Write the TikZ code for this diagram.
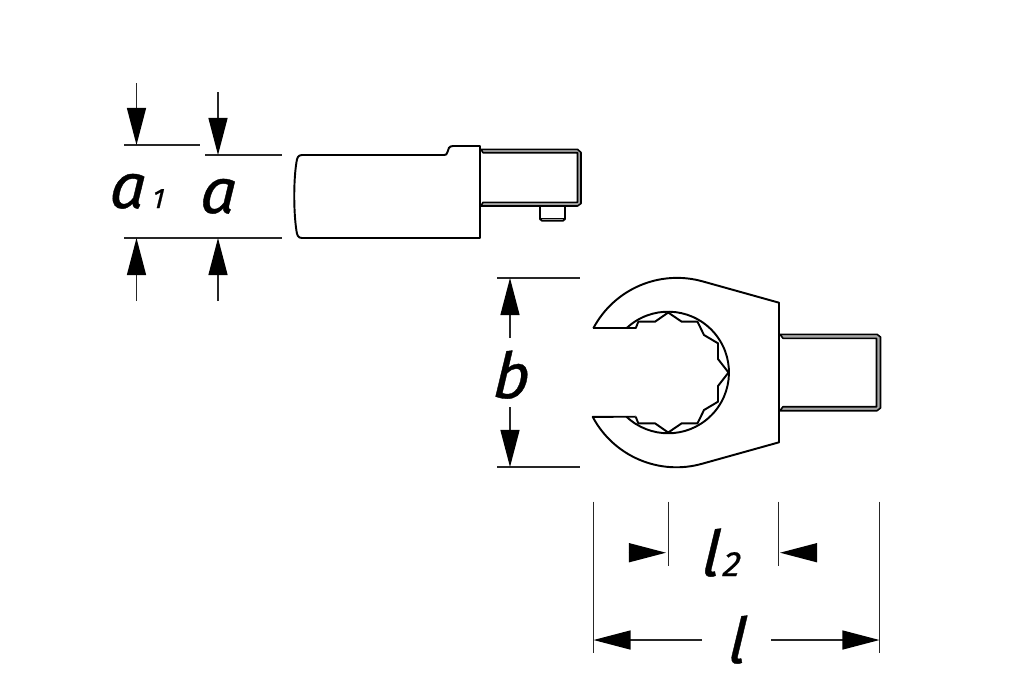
\documentclass[tikz,border=0pt]{standalone}
\usepackage{fontspec}
\usepackage{tikz}
\usetikzlibrary{arrows.meta}
\newfontfamily\dimfont{Fira Sans}[ItalicFeatures={FakeBold=0.6,FakeSlant=0.1}]

\tikzset{
    partline/.style={line width=0.55pt, line join=round},
    thinpart/.style={line width=0.45pt},
    bandline/.style={line width=0.45pt, line join=round, fill=black!35},
    dimline/.style={line width=0.38pt, black!85},
    dimarrow/.style={line width=0.38pt, black!85, -{Triangle[length=3.7mm,width=1.9mm,black]}},
    dimlabel/.style={inner sep=0pt, anchor=base, font=\dimfont\itshape\fontsize{18}{18}\selectfont},
}

\begin{document}
\begin{tikzpicture}[x=0.01cm, y=-0.01cm]
        \useasboundingbox (0,0) rectangle (1030,699);

        % Define the dimension points
        \coordinate (AoneTopEnd) at (136.5,83);
        \coordinate (AoneTopTip) at (136.5,145);
        \coordinate (AoneBotEnd) at (136.5,301);
        \coordinate (AoneBotTip) at (136.5,238);
        \coordinate (ATopEnd) at (218,92);
        \coordinate (ATopTip) at (218,155);
        \coordinate (ABotEnd) at (218,301);
        \coordinate (ABotTip) at (218,238);
        \coordinate (BTopEnd) at (510,338);
        \coordinate (BTopTip) at (510,278);
        \coordinate (BBotEnd) at (510,407);
        \coordinate (BBotTip) at (510,467);
        \coordinate (LtwoLeftEnd) at (628.5,552.7);
        \coordinate (LtwoLeftTip) at (666,552.7);
        \coordinate (LtwoRightEnd) at (815.7,552.7);
        \coordinate (LtwoRightTip) at (780,552.7);
        \coordinate (LLeftEnd) at (702,640);
        \coordinate (LLeftTip) at (593.5,640);
        \coordinate (LRightEnd) at (771,640);
        \coordinate (LRightTip) at (879.5,640);

        % Define the extension lines
        \draw[dimline] (124.3,145) -- (200,145);
        \draw[dimline] (205,155) -- (281.7,155);
        \draw[dimline] (124.3,238) -- (281.7,238);
        \draw[dimline] (497,278) -- (580,278);
        \draw[dimline] (497,467) -- (580,467);
        \draw[dimline] (593.5,501.7) -- (593.5,653.3);
        \draw[dimline] (879.5,501.7) -- (879.5,653.3);
        \draw[dimline] (668.3,501.7) -- (668.3,566);
        \draw[dimline] (778.7,501.7) -- (778.7,566);

        % Define the arrows
        \draw[dimarrow] (AoneTopEnd) -- (AoneTopTip);
        \draw[dimarrow] (AoneBotEnd) -- (AoneBotTip);
        \draw[dimarrow] (ATopEnd) -- (ATopTip);
        \draw[dimarrow] (ABotEnd) -- (ABotTip);
        \draw[dimarrow] (BTopEnd) -- (BTopTip);
        \draw[dimarrow] (BBotEnd) -- (BBotTip);
        \draw[dimarrow] (LtwoLeftEnd) -- (LtwoLeftTip);
        \draw[dimarrow] (LtwoRightEnd) -- (LtwoRightTip);
        \draw[dimarrow] (LLeftEnd) -- (LLeftTip);
        \draw[dimarrow] (LRightEnd) -- (LRightTip);

        % Labels
        \node[dimlabel] (LabelAone) at (136,208) {a\hspace{2pt}{\fontsize{8}{8}\selectfont 1}};
        \node[dimlabel] (LabelA) at (217,213) {a};
        \node[dimlabel] (LabelB) at (510,398) {b};
        \node[dimlabel] (LabelLtwo) at (720,576) {l\hspace{1pt}{\fontsize{10}{10}\selectfont 2}};
        \node[dimlabel] (LabelL) at (736,663) {l};

        % Side view
        \draw[partline] (480,146) -- (453,146) .. controls (449,146) and (448,149) .. (447.5,152)
            .. controls (447,154.5) and (446,155) .. (444,155) -- (302,155)
            .. controls (298,155) and (297,158) .. (296.5,162)
            .. controls (293.5,180) and (293.5,212) .. (296.5,231)
            .. controls (297,235) and (298,238) .. (302,238) -- (480,238) -- cycle;
        \draw[bandline] (481,149.3) -- (577.5,149.3) -- (581,152.5) -- (581,203.5) -- (577.5,206) -- (481,206)
            -- (483,202.3) -- (577.5,202.3) -- (577.5,152.7) -- (483,152.7) -- cycle;
        \draw[partline] (540,206) -- (540,219) -- (542,220.7) -- (563,220.7) -- (565,219) -- (565,206);
        \draw[thinpart] (541,218.3) -- (564,218.3);

        % Front view
        \draw[partline] (593.3,328.3) arc[start angle=-152.1, end angle=-74, radius=94.8]
            -- (779,302.7) -- (779,442.3) -- (702.6,463.6)
            arc[start angle=74, end angle=152.1, radius=94.8] -- (635.7,416.7);
        \draw[partline] (593.3,328.3) -- (635.7,328.3);
        \draw[partline] (626.4,328.3) arc[start angle=-133.4, end angle=133.4, radius=60.8];
        \draw[partline] (635.7,328.3) -- (638.3,321.7) -- (655,321.7) -- (668.2,312.5) -- (681.7,321.7)
            -- (697.5,321.7) -- (704,335) -- (718,343.3) -- (718,359) -- (728.5,372.5)
            -- (718,386) -- (718,401.7) -- (704,410) -- (697.5,423.3) -- (681.7,423.3)
            -- (668.2,432.5) -- (655,423.3) -- (638.3,423.3) -- (635.7,416.7);

        % Drive square
        \draw[bandline] (780,334.3) -- (877,334.3) -- (880.5,337) -- (880.5,408) -- (877,410.7) -- (780,410.7)
            -- (783,406.7) -- (876.5,406.7) -- (876.5,338.3) -- (783,338.3) -- cycle;
\end{tikzpicture}
\end{document}
